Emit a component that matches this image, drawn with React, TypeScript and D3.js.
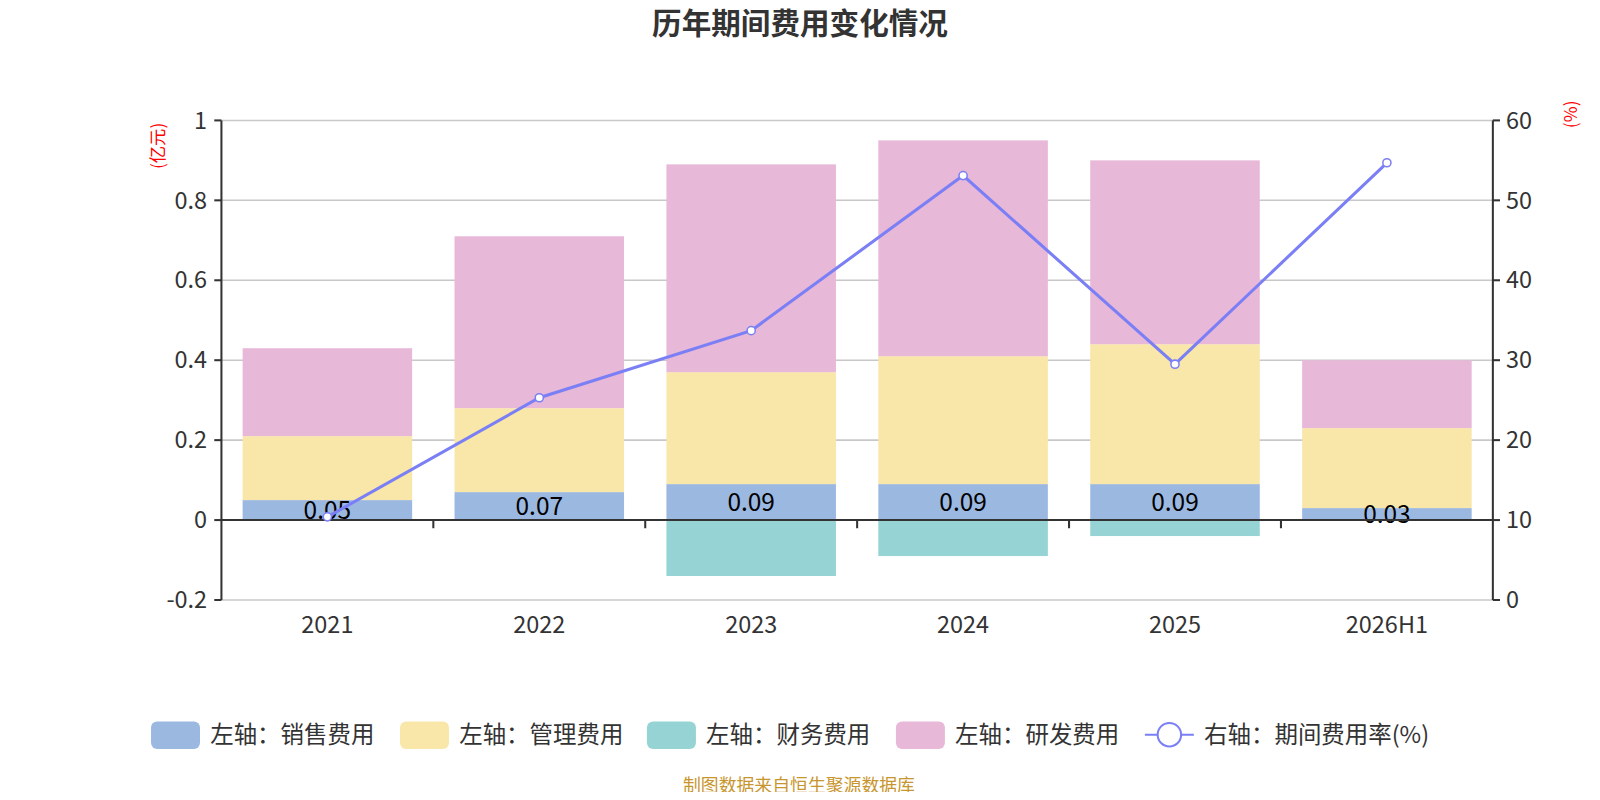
import { useEffect, useRef } from "react";
import * as d3 from "d3";

const categories = ["2021", "2022", "2023", "2024", "2025", "2026H1"];
const salesValues = [0.05, 0.07, 0.09, 0.09, 0.09, 0.03];
const adminValues = [0.16, 0.21, 0.28, 0.32, 0.35, 0.2];
const financeValues = [0, 0, -0.14, -0.09, -0.04, 0];
const rdValues = [0.22, 0.43, 0.52, 0.54, 0.46, 0.17];
const rateValues = [10.4, 25.3, 33.7, 53.1, 29.5, 54.7];
const leftTicks = [-0.2, 0, 0.2, 0.4, 0.6, 0.8, 1];
const rightTicks = [0, 10, 20, 30, 40, 50, 60];

const colors = {
  sales: "#9bb8e1",
  admin: "#f8e7a8",
  finance: "#96d3d4",
  rd: "#e7b8d8",
  rate: "#7b7ff5",
};

const legendItems = [
  { label: "左轴：销售费用", color: colors.sales, type: "rect" },
  { label: "左轴：管理费用", color: colors.admin, type: "rect" },
  { label: "左轴：财务费用", color: colors.finance, type: "rect" },
  { label: "左轴：研发费用", color: colors.rd, type: "rect" },
  { label: "右轴：期间费用率(%)", color: colors.rate, type: "line" },
];

const FONT = "'Noto Sans CJK SC', 'Noto Sans', sans-serif";

export default function App() {
  const svgRef = useRef<SVGSVGElement>(null);

  useEffect(() => {
    if (!svgRef.current) return;
    const svg = d3.select(svgRef.current);
    svg.selectAll("*").remove();

    // layout measured on a 1568x784 canvas, scaled via viewBox
    const left = 217;
    const right = 1463;

    const x = d3.scaleBand().domain(categories).range([left, right]).paddingInner(0.2).paddingOuter(0.1);
    const xb = d3.scaleBand().domain(categories).range([left, right]);
    const y = d3.scaleLinear().domain([-0.2, 1]).range([588, 118]);
    const y2 = d3.scaleLinear().domain([0, 60]).range([588, 118]);

    // Title
    svg
      .append("text")
      .attr("x", 784)
      .attr("y", 33)
      .attr("text-anchor", "middle")
      .attr("font-family", FONT)
      .attr("font-size", 29)
      .attr("font-weight", "bold")
      .attr("fill", "#333")
      .text("历年期间费用变化情况");

    // Grid lines
    svg
      .append("g")
      .selectAll("line")
      .data(leftTicks)
      .join("line")
      .attr("x1", left)
      .attr("x2", right)
      .attr("y1", (d) => y(d))
      .attr("y2", (d) => y(d))
      .attr("stroke", "#c8c8c8")
      .attr("stroke-width", 1.5);

    // Stacked bars
    const bars = svg.append("g");
    categories.forEach((c, i) => {
      const bx = x(c) || 0;
      const w = x.bandwidth();
      const s = salesValues[i];
      const a = adminValues[i];
      const r = rdValues[i];
      const f = financeValues[i];
      const segs = [
        { y0: 0, y1: s, color: colors.sales },
        { y0: s, y1: s + a, color: colors.admin },
        { y0: s + a, y1: s + a + r, color: colors.rd },
        { y0: f, y1: 0, color: colors.finance },
      ];
      segs.forEach((seg) => {
        if (seg.y1 === seg.y0) return;
        bars
          .append("rect")
          .attr("x", bx)
          .attr("width", w)
          .attr("y", y(Math.max(seg.y0, seg.y1)))
          .attr("height", Math.abs(y(seg.y0) - y(seg.y1)))
          .attr("fill", seg.color);
      });
    });

    // Sales labels
    svg
      .append("g")
      .selectAll("text")
      .data(salesValues)
      .join("text")
      .attr("x", (_, i) => (x(categories[i]) || 0) + x.bandwidth() / 2)
      .attr("y", (d) => y(d / 2))
      .attr("dy", "0.35em")
      .attr("text-anchor", "middle")
      .attr("font-family", FONT)
      .attr("font-size", 24)
      .attr("fill", "#000")
      .text((d) => d.toFixed(2));

    // Left axis
    const axisColor = "#333";
    const tickSize = 23;
    const gl = svg.append("g").attr("transform", `translate(${left},0)`);
    gl.append("line").attr("y1", y(-0.2)).attr("y2", y(1)).attr("stroke", axisColor).attr("stroke-width", 2);
    gl.selectAll(".t")
      .data(leftTicks)
      .join("line")
      .attr("x1", -7)
      .attr("x2", 0)
      .attr("y1", (d) => y(d))
      .attr("y2", (d) => y(d))
      .attr("stroke", axisColor)
      .attr("stroke-width", 2);
    gl.selectAll("text")
      .data(leftTicks)
      .join("text")
      .attr("x", -14)
      .attr("y", (d) => y(d))
      .attr("dy", "0.35em")
      .attr("text-anchor", "end")
      .attr("font-family", FONT)
      .attr("font-size", tickSize)
      .attr("fill", axisColor)
      .text((d) => String(d));

    // Right axis
    const gr = svg.append("g").attr("transform", `translate(${right},0)`);
    gr.append("line").attr("y1", y2(0)).attr("y2", y2(60)).attr("stroke", axisColor).attr("stroke-width", 2);
    gr.selectAll(".t")
      .data(rightTicks)
      .join("line")
      .attr("x1", 0)
      .attr("x2", 7)
      .attr("y1", (d) => y2(d))
      .attr("y2", (d) => y2(d))
      .attr("stroke", axisColor)
      .attr("stroke-width", 2);
    gr.selectAll("text")
      .data(rightTicks)
      .join("text")
      .attr("x", 13)
      .attr("y", (d) => y2(d))
      .attr("dy", "0.35em")
      .attr("text-anchor", "start")
      .attr("font-family", FONT)
      .attr("font-size", tickSize)
      .attr("fill", axisColor)
      .text((d) => String(d));

    // X axis at zero
    const gx = svg.append("g");
    gx.append("line")
      .attr("x1", left)
      .attr("x2", right)
      .attr("y1", y(0))
      .attr("y2", y(0))
      .attr("stroke", axisColor)
      .attr("stroke-width", 2);
    gx.selectAll(".t")
      .data(categories.slice(1))
      .join("line")
      .attr("x1", (d) => xb(d) || 0)
      .attr("x2", (d) => xb(d) || 0)
      .attr("y1", y(0))
      .attr("y2", y(0) + 8)
      .attr("stroke", axisColor)
      .attr("stroke-width", 2);
    gx.selectAll("text")
      .data(categories)
      .join("text")
      .attr("x", (d) => (xb(d) || 0) + xb.bandwidth() / 2)
      .attr("y", 612)
      .attr("dy", "0.35em")
      .attr("text-anchor", "middle")
      .attr("font-family", FONT)
      .attr("font-size", tickSize)
      .attr("fill", axisColor)
      .text((d) => d);

    // Unit labels
    svg
      .append("text")
      .attr("transform", "translate(161,143) rotate(-90)")
      .attr("text-anchor", "middle")
      .attr("font-family", FONT)
      .attr("font-size", 17)
      .attr("fill", "red")
      .text("(亿元)");
    svg
      .append("text")
      .attr("transform", "translate(1545,112) rotate(-90)")
      .attr("text-anchor", "middle")
      .attr("font-family", FONT)
      .attr("font-size", 17)
      .attr("fill", "red")
      .text("(%)");

    // Rate line
    const line = d3
      .line<number>()
      .x((_, i) => (xb(categories[i]) || 0) + xb.bandwidth() / 2)
      .y((d) => y2(d));
    svg
      .append("path")
      .datum(rateValues)
      .attr("d", line)
      .attr("fill", "none")
      .attr("stroke", colors.rate)
      .attr("stroke-width", 3);
    svg
      .append("g")
      .selectAll("circle")
      .data(rateValues)
      .join("circle")
      .attr("cx", (_, i) => (xb(categories[i]) || 0) + xb.bandwidth() / 2)
      .attr("cy", (d) => y2(d))
      .attr("r", 4)
      .attr("fill", "#fff")
      .attr("stroke", colors.rate)
      .attr("stroke-width", 1.5);

    // Legend
    const legendX = [148, 392, 634, 878, 1122];
    const lg = svg.append("g");
    legendItems.forEach((item, i) => {
      const g = lg.append("g").attr("transform", `translate(${legendX[i]},720)`);
      if (item.type === "rect") {
        g.append("rect")
          .attr("x", 0)
          .attr("y", -13)
          .attr("width", 48)
          .attr("height", 27)
          .attr("rx", 6)
          .attr("fill", item.color);
      } else {
        g.append("line")
          .attr("x1", 0)
          .attr("x2", 48)
          .attr("y1", 0)
          .attr("y2", 0)
          .attr("stroke", item.color)
          .attr("stroke-width", 2);
        g.append("circle")
          .attr("cx", 24)
          .attr("cy", 0)
          .attr("r", 11.5)
          .attr("fill", "#fff")
          .attr("stroke", item.color)
          .attr("stroke-width", 2);
      }
      g.append("text")
        .attr("x", 58)
        .attr("y", 0)
        .attr("dy", "0.35em")
        .attr("font-family", FONT)
        .attr("font-size", 23)
        .attr("fill", "#333")
        .text(item.label);
    });

    // Footer
    svg
      .append("text")
      .attr("x", 783)
      .attr("y", 776)
      .attr("text-anchor", "middle")
      .attr("font-family", FONT)
      .attr("font-size", 17.5)
      .attr("fill", "#c8962e")
      .text("制图数据来自恒生聚源数据库");
  }, []);

  return (
    <div style={{ margin: -8 }}>
      <svg
        ref={svgRef}
        width={1600}
        height={800}
        viewBox="0 0 1568 784"
        style={{ display: "block", background: "#fff" }}
      />
    </div>
  );
}
